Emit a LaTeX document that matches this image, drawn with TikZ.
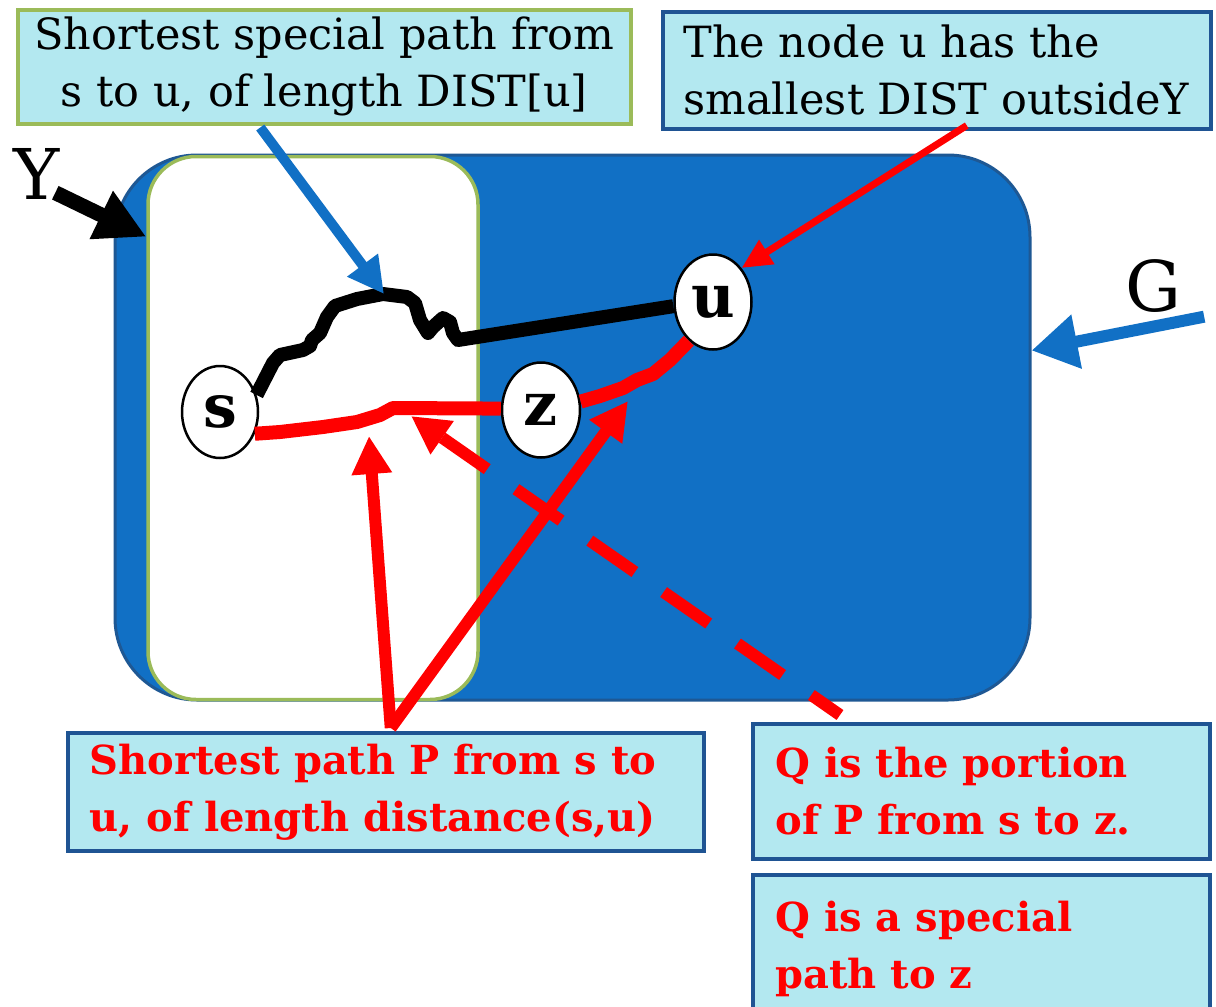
\documentclass[tikz,border=0pt]{standalone}
\usepackage{fontspec}
\setmainfont{DejaVu Serif}
\usetikzlibrary{arrows.meta,shapes.geometric,calc}
\definecolor{gblue}{HTML}{1170C5}
\definecolor{gedge}{HTML}{1E5894}
\definecolor{boxfill}{HTML}{B3E8F0}
\definecolor{boxedge}{HTML}{1F5493}
\definecolor{ygreen}{HTML}{9BBB59}
\definecolor{pred}{HTML}{FF0000}
\tikzset{
  tbox/.style={draw=boxedge, line width=3.5pt, fill=boxfill, inner sep=0pt, anchor=north west},
  blacktext/.style={font=\fontsize{43}{57}\selectfont, text=black},
  redtext/.style={font=\bfseries\fontsize{40}{57}\selectfont, text=pred},
  vert/.style={ellipse, draw=black, line width=2.5pt, fill=white, inner sep=0pt, font=\bfseries\fontsize{60}{60}\selectfont},
  setlabel/.style={font=\fontsize{70}{70}\selectfont, inner sep=0pt},
  wpath/.style={line width=14pt, line join=round, line cap=butt},
  rarrow/.style={draw=pred, line width=12pt, -{Triangle[length=38pt,width=38pt]}},
}
\begin{document}
\begin{tikzpicture}[x=1pt,y=-1pt]
\useasboundingbox (0,0) rectangle (1216,1007);
% sets
\node[draw=gedge, line width=3pt, fill=gblue, rounded corners=82pt, minimum width=915pt, minimum height=545pt, inner sep=0pt] (Gset) at (572.5,427.5) {};
\node[draw=ygreen, line width=3.5pt, fill=white, rounded corners=48pt, minimum width=330pt, minimum height=543pt, inner sep=0pt] (Yset) at (313,428) {};
% labels
\node[setlabel] (Ylab) at (37,174) {Y};
\node[setlabel] (Glab) at (1153,286) {G};
% vertices
\node[vert, minimum width=76pt, minimum height=92pt] (s) at (220,412) {s};
\node[vert, minimum width=77pt, minimum height=95pt] (u) at (713,302) {u};
\node[vert, minimum width=78pt, minimum height=95pt] (z) at (541,410) {z};
% special path (black)
\draw[wpath, draw=black] (s.25) -- (273,363) -- (280,355) -- (303,350) -- (310,346) -- (312,340) -- (320,333) -- (327,317) -- (335,306) -- (357,299) -- (383,294) -- (407,297) -- (415,303) -- (420,320) -- (428,333) -- (433,327) -- (443,318) -- (450,322) -- (453,333) -- (458,340) -- (u.186);
% shortest path (red)
\draw[wpath, draw=pred] (s.-32) -- (280,432) -- (323,427) -- (357,422) -- (380,415) -- (393,408) -- (z.178);
\draw[wpath, draw=pred] (z.12) -- (600,396) -- (623,388) -- (637,380) -- (653,374) -- (670,360) -- (u.238);
% text boxes
\node[tbox, draw=ygreen, minimum width=613pt, minimum height=114pt] (b1) at (16,8) {};
\node[blacktext, align=center] at (b1.center) {Shortest special path from\\s to u, of length DIST[u]};
\node[tbox, minimum width=548pt, minimum height=117pt] (b2) at (661,10) {};
\node[blacktext, align=left, anchor=west] at ($(b2.west)+(19,0)$) {The node u has the\\smallest DIST outsideY};
\node[tbox, minimum width=636pt, minimum height=118pt] (b3) at (66,731) {};
\node[redtext, align=left, anchor=west] at ($(b3.west)+(20,0)$) {Shortest path P from s to\\u, of length distance(s,u)};
\node[tbox, minimum width=457pt, minimum height=135pt] (b4) at (751,722) {};
\node[redtext, align=left, anchor=west] at ($(b4.west)+(21,0)$) {Q is the portion\\of P from s to z.};
\node[tbox, minimum width=457pt, minimum height=145pt] (b5) at (751,873) {};
\node[redtext, align=left, anchor=north west] at ($(b5.north west)+(21,25)$) {Q is a special\\path to z};
% pointer coordinates
\coordinate (wtop) at (384,294);
\coordinate (p1) at (369,436);
\coordinate (p2) at (628,401);
\coordinate (p3) at (411,416);
\coordinate (btail) at ($(b3.north)+(5,-3)$);
% arrows
\draw[line width=15pt, -{Triangle[length=50pt,width=50pt]}] ($(Ylab.south east)+(-5,-7)$) -- ($(Yset.north west)+(0,82)$);
\draw[gblue, line width=12pt, -{Triangle[length=46pt,width=52pt]}] ($(Glab.south east)+(23,4)$) -- ($(Gset.north east)+(0,197)$);
\draw[gblue, line width=10pt, -{Triangle[length=36pt,width=36pt]}] ($(b1.south)+(-64,2)$) -- (wtop);
\draw[pred, line width=7pt, -{Triangle[length=30pt,width=27pt]}] ($(b2.south)+(30,-5)$) -- (u.50);
\draw[rarrow] (btail) -- (p1);
\draw[rarrow] (btail) -- (p2);
\draw[rarrow, dash pattern=on 55pt off 35pt, dash phase=20pt] ($(b4.north west)+(89,-7)$) -- (p3);
\end{tikzpicture}
\end{document}
